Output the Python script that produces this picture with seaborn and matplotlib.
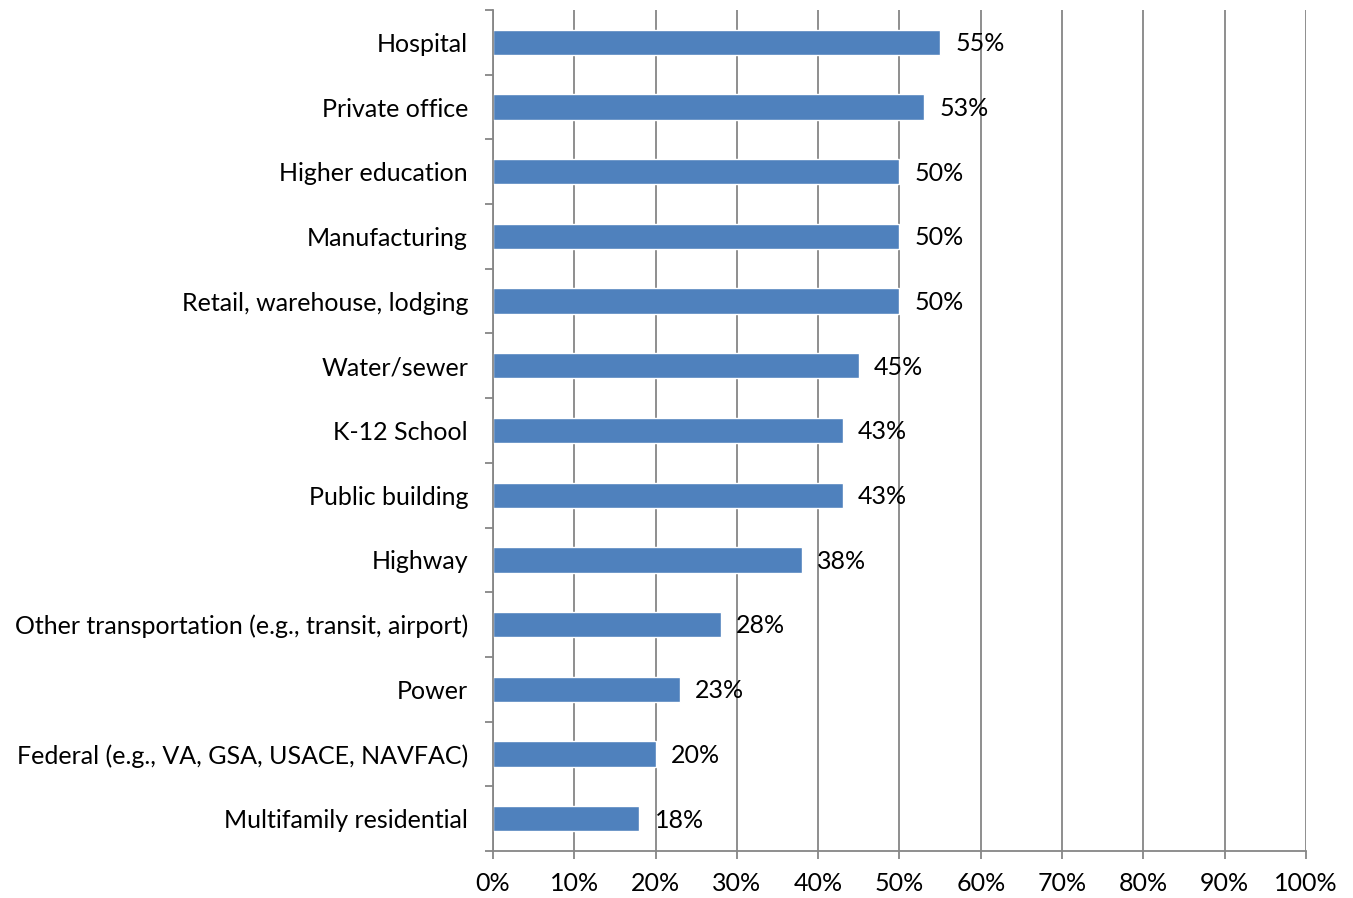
import matplotlib.pyplot as plt
import seaborn as sns
import pandas as pd
from matplotlib.ticker import FixedLocator, PercentFormatter

categories = ["Hospital", "Private office", "Higher education", "Manufacturing",
              "Retail, warehouse, lodging", "Water/sewer", "K-12 School",
              "Public building", "Highway",
              "Other transportation (e.g., transit, airport)", "Power",
              "Federal (e.g., VA, GSA, USACE, NAVFAC)", "Multifamily residential"]
values = [55, 53, 50, 50, 50, 45, 43, 43, 38, 28, 23, 20, 18]

df = pd.DataFrame({"sector": categories, "pct": values})

sns.set_style("white")
plt.rcParams['font.family'] = ['Lato', 'DejaVu Sans']
plt.rcParams['text.color'] = 'black'
plt.rcParams['xtick.labelcolor'] = 'black'
plt.rcParams['ytick.labelcolor'] = 'black'
fs = 18

fig = plt.figure(figsize=(13.53, 8.98), dpi=100)
ax = fig.add_axes([0.3644, 0.0523, 0.6008, 0.9366])

sns.barplot(data=df, x="pct", y="sector", orient="h", color="#4F81BD",
            saturation=1, width=0.39, ax=ax)

gray = "#868686"
ax.set_xlim(0, 100)
ax.set_ylim(len(categories) - 0.5, -0.5)
ax.set_xticks(range(0, 101, 10))
ax.xaxis.set_major_formatter(PercentFormatter(decimals=0))
ax.xaxis.grid(True, color=gray, linewidth=1.3)
ax.set_axisbelow(True)

# category ticks sit between the bars
ax.yaxis.set_minor_locator(FixedLocator([i - 0.5 for i in range(len(categories) + 1)]))
ax.tick_params(axis="y", which="major", length=0, pad=18, labelsize=fs, labelcolor="black")
ax.tick_params(axis="y", which="minor", length=6, width=1.3, color=gray, left=True)
ax.tick_params(axis="x", length=6, width=1.3, color=gray, bottom=True, labelsize=fs,
               pad=9, labelcolor="black")
for lbl in ax.get_yticklabels():
    lbl.set_y(lbl.get_position()[1])

for s in ["top", "right"]:
    ax.spines[s].set_visible(False)
for s in ["left", "bottom"]:
    ax.spines[s].set_color(gray)
    ax.spines[s].set_linewidth(1.3)

for i, v in enumerate(values):
    ax.annotate(f"{v}%", (v, i), xytext=(11, -1), textcoords="offset points",
                va="center", ha="left", fontsize=fs, color="black")

ax.set_xlabel("")
ax.set_ylabel("")
plt.savefig("out.png", dpi=100)
plt.close()
